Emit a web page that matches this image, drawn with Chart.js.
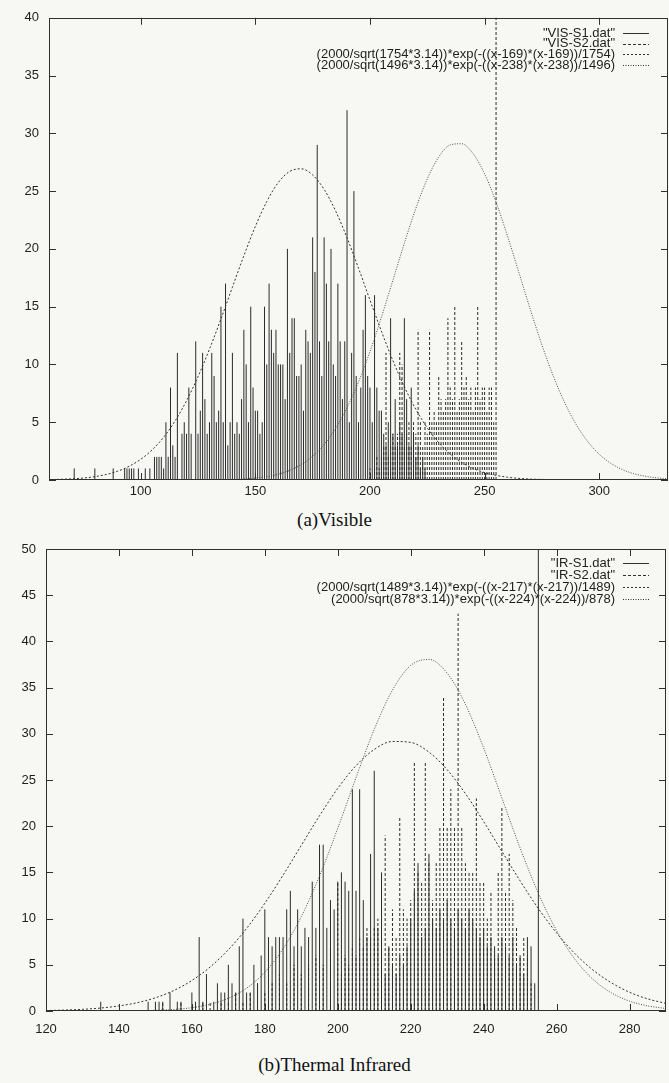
<!DOCTYPE html>
<html lang="en">
<head>
<meta charset="utf-8">
<title>Histogramas VIS / IR</title>
<script src="https://cdn.jsdelivr.net/npm/chart.js@4.4.1/dist/chart.umd.min.js"></script>
<style>
  html, body { margin: 0; padding: 0; background: #f7f7f3; }
  body { position: relative; width: 669px; height: 1083px; overflow: hidden; }
  canvas { position: absolute; left: 0; }
  .titulo { position: absolute; left: 0; width: 669px; text-align: center; line-height: 22px;
            font-family: 'Liberation Serif', 'Times New Roman', serif; font-size: 19px; color: #111; }
</style>
</head>
<body>
<canvas id="graficoVisible" width="669" height="508" style="top:0"></canvas>
<div class="titulo" style="top:509px">(a)Visible</div>
<canvas id="graficoInfrarrojo" width="669" height="520" style="top:530px"></canvas>
<div class="titulo" style="top:1054px">(b)Thermal Infrared</div>
<script>
// ---- (a) Visible ----
// histograma S1: un valor por nivel de gris, desde visS1Inicio
var visS1Inicio = 70;
var visS1 = [
    0, 1, 0, 0, 0, 0, 0, 0, 0, 0,
    1, 0, 0, 0, 0, 0, 0, 0, 1, 0,
    0, 0, 0, 1, 1, 1, 1, 1, 0, 1,
    0, 0, 1, 0, 1, 0, 2, 2, 2, 2,
    1, 5, 2, 8, 3, 2, 11, 0, 4, 5,
    4, 8, 4, 0, 12, 4, 6, 11, 7, 4,
    5, 11, 9, 5, 6, 15, 5, 17, 3, 5,
    11, 4, 5, 4, 7, 13, 10, 5, 15, 8,
    6, 6, 4, 5, 15, 10, 17, 13, 11, 13,
    10, 10, 10, 7, 20, 11, 14, 14, 9, 9,
    10, 6, 13, 12, 11, 21, 18, 29, 12, 9,
    21, 17, 12, 20, 10, 9, 17, 12, 7, 12,
    32, 5, 11, 25, 9, 5, 8, 13, 16, 9,
    8, 5, 16, 8, 6, 6, 4, 3, 5, 14,
    4, 7, 3, 5, 4, 14, 7, 3, 8, 4,
    2, 3, 1, 2, 1
];
// histograma S2 (el 255 se sale del grafico)
var visS2Inicio = 200;
var visS2 = [
    1, 0, 1, 2, 1, 2, 3, 11, 2, 3,
    4, 3, 4, 11, 10, 3, 4, 5, 3, 5,
    4, 13, 5, 3, 5, 4, 13, 5, 6, 5,
    9, 7, 6, 7, 14, 8, 7, 15, 6, 7,
    12, 8, 9, 7, 8, 6, 8, 15, 7, 8,
    8, 6, 8, 8, 5, 60
];
// curvas gaussianas
var visCurvaX = [60, 65, 70, 75, 80, 85, 90, 95, 100, 105, 110, 115, 120, 125, 130, 135, 140, 145, 150, 155,
    160, 165, 170, 175, 180, 185, 190, 195, 200, 205, 210, 215, 220, 225, 230, 235, 240, 245, 250, 255,
    260, 265, 270, 275, 280, 285, 290, 295, 300, 305, 310, 315, 320, 325, 330];
var visCurva1 = [0.03, 0.06, 0.10, 0.17, 0.29, 0.48, 0.77, 1.19, 1.79, 2.61, 3.70, 5.11, 6.86, 8.94, 11.32,
    13.94, 16.68, 19.41, 21.94, 24.10, 25.74, 26.71, 26.93, 26.40, 25.15, 23.29, 20.96, 18.33, 15.58, 12.87,
    10.34, 8.07, 6.12, 4.51, 3.23, 2.25, 1.52, 1.00, 0.64, 0.40, 0.24, 0.14, 0.08, 0.05, 0.02, 0.01, 0.01,
    0, 0, 0, 0, 0, 0, 0, 0];
var visCurva2 = [0, 0, 0, 0, 0, 0, 0, 0, 0, 0, 0, 0, 0, 0.01, 0.01, 0.02, 0.05, 0.09, 0.17, 0.29, 0.50,
    0.83, 1.33, 2.06, 3.08, 4.46, 6.26, 8.48, 11.11, 14.09, 17.28, 20.49, 23.50, 26.06, 27.96, 29.00, 29.10,
    28.24, 26.50, 24.05, 21.11, 17.93, 14.72, 11.69, 8.98, 6.67, 4.79, 3.33, 2.23, 1.45, 0.91, 0.55, 0.33,
    0.19, 0.10];
var visTicksX = [100, 150, 200, 250, 300];
var visTicksY = [0, 5, 10, 15, 20, 25, 30, 35, 40];
var visLeyenda = ['"VIS-S1.dat"', '"VIS-S2.dat"',
    '(2000/sqrt(1754*3.14))*exp(-((x-169)*(x-169))/1754)',
    '(2000/sqrt(1496*3.14))*exp(-((x-238)*(x-238))/1496)'];

// ---- (b) Thermal Infrared ----
var irS1Inicio = 135;
var irS1 = [
    1, 0, 0, 0, 0, 0, 0, 0, 0, 0,
    0, 0, 0, 1, 0, 1, 1, 1, 0, 2,
    0, 1, 1, 0, 0, 2, 1, 8, 1, 4,
    0, 1, 3, 2, 2, 5, 3, 2, 7, 10,
    2, 2, 5, 3, 6, 11, 8, 7, 8, 8,
    8, 11, 13, 7, 11, 7, 9, 8, 14, 9,
    18, 18, 9, 12, 11, 14, 15, 14, 13, 24,
    13, 24, 12, 8, 17, 26, 9, 15, 4, 7,
    5, 4, 6, 5, 7, 10, 13, 16, 8, 9,
    17, 10, 9, 11, 10, 12, 10, 9, 11, 10,
    9, 11, 10, 9, 8, 9, 7, 8, 7, 6,
    8, 7, 6, 8, 5, 6, 4, 8, 7, 3,
    60
];
var irS2Inicio = 150;
var irS2 = [
    0, 0, 1, 0, 0, 0, 0, 1, 0, 0,
    0, 0, 0, 1, 0, 1, 0, 0, 1, 0,
    1, 0, 2, 0, 1, 0, 2, 0, 3, 0,
    2, 0, 3, 0, 4, 0, 3, 0, 5, 0,
    4, 0, 5, 0, 6, 0, 5, 0, 7, 0,
    14, 4, 6, 5, 7, 6, 8, 7, 9, 8,
    9, 10, 8, 19, 7, 11, 8, 21, 11, 10,
    12, 27, 15, 14, 27, 16, 12, 16, 20, 34,
    20, 24, 20, 43, 20, 16, 15, 15, 23, 14,
    14, 10, 13, 6, 15, 22, 13, 17, 12, 9,
    6, 8, 6, 3, 0
];
var irCurvaX = [120, 125, 130, 135, 140, 145, 150, 155, 160, 165, 170, 175, 180, 185, 190, 195, 200, 205,
    210, 215, 220, 225, 230, 235, 240, 245, 250, 255, 260, 265, 270, 275, 280, 285, 290];
var irCurva1 = [0.05, 0.10, 0.18, 0.32, 0.55, 0.90, 1.43, 2.21, 3.30, 4.76, 6.63, 8.94, 11.66, 14.70, 17.93,
    21.13, 24.09, 26.55, 28.30, 29.17, 29.07, 28.02, 26.11, 23.53, 20.50, 17.28, 14.08, 11.09, 8.45, 6.22,
    4.43, 3.06, 2.03, 1.31, 0.82];
var irCurva2 = [0, 0, 0, 0.01, 0.01, 0.03, 0.07, 0.17, 0.36, 0.72, 1.38, 2.47, 4.20, 6.74, 10.21, 14.61,
    19.77, 25.25, 30.47, 34.73, 37.40, 38.05, 36.56, 33.19, 28.46, 23.05, 17.64, 12.75, 8.70, 5.61, 3.42,
    1.97, 1.07, 0.55, 0.27];
var irTicksX = [120, 140, 160, 180, 200, 220, 240, 260, 280];
var irTicksY = [0, 5, 10, 15, 20, 25, 30, 35, 40, 45, 50];
var irLeyenda = ['"IR-S1.dat"', '"IR-S2.dat"',
    '(2000/sqrt(1489*3.14))*exp(-((x-217)*(x-217))/1489)',
    '(2000/sqrt(878*3.14))*exp(-((x-224)*(x-224))/878)'];

var TINTA = '#2b2b2b';
var LETRA = '"Liberation Sans", Arial, Helvetica, sans-serif';
var trazos = [[], [3, 2], [2, 2], [1, 1.5]];

Chart.defaults.font.family = LETRA;
Chart.defaults.font.size = 13;
Chart.defaults.color = '#1e1e1e';

// cada impulso: linea vertical de 0 al valor, separada con null
function impulsos(inicio, valores) {
    var puntos = [];
    valores.forEach(function (v, i) {
        if (!v) return;
        var x = inicio + i;
        puntos.push({ x: x, y: 0 }, { x: x, y: v }, { x: x, y: null });
    });
    return puntos;
}

function curva(xs, ys) {
    return xs.map(function (x, i) { return { x: x, y: ys[i] }; });
}

// marco, marcas de las escalas hacia adentro y leyenda al estilo gnuplot
function marcoGnuplot(cfg) {
    return {
        id: 'marcoGnuplot',
        afterDraw: function (chart) {
            var ctx = chart.ctx, a = chart.chartArea;
            var sx = chart.scales.x, sy = chart.scales.y;
            ctx.save();
            ctx.strokeStyle = '#303030';
            ctx.lineWidth = 1;
            ctx.setLineDash([]);
            ctx.strokeRect(Math.round(a.left) + 0.5, Math.round(a.top) + 0.5,
                Math.round(a.right - a.left) - 1, Math.round(a.bottom - a.top) - 1);
            ctx.beginPath();
            cfg.ticksX.forEach(function (v) {
                var px = Math.round(sx.getPixelForValue(v)) + 0.5;
                ctx.moveTo(px, a.bottom); ctx.lineTo(px, a.bottom - 7);
                ctx.moveTo(px, a.top); ctx.lineTo(px, a.top + 7);
            });
            cfg.ticksY.forEach(function (v) {
                var py = Math.round(sy.getPixelForValue(v)) + 0.5;
                ctx.moveTo(a.left, py); ctx.lineTo(a.left + 7, py);
                ctx.moveTo(a.right, py); ctx.lineTo(a.right - 7, py);
            });
            ctx.stroke();

            ctx.font = '13px ' + LETRA;
            ctx.fillStyle = '#1e1e1e';
            ctx.textAlign = 'right';
            ctx.textBaseline = 'middle';
            cfg.leyenda.forEach(function (texto, i) {
                var y = cfg.leyendaY + i * cfg.leyendaPaso;
                ctx.fillText(texto, cfg.leyendaX, y);
                ctx.setLineDash(trazos[i]);
                ctx.beginPath();
                ctx.moveTo(cfg.leyendaX + 8, Math.round(y) + 0.5);
                ctx.lineTo(cfg.leyendaX + 34, Math.round(y) + 0.5);
                ctx.stroke();
            });
            ctx.restore();
        }
    };
}

function crearGrafico(id, cfg) {
    var ctx = document.getElementById(id).getContext('2d');
    var data = {
        datasets: [
            { data: curva(cfg.curvaX, cfg.curva2), borderColor: '#4a4a4a', borderWidth: 1,
              borderDash: trazos[3], cubicInterpolationMode: 'monotone', order: 0 },
            { data: curva(cfg.curvaX, cfg.curva1), borderColor: '#333', borderWidth: 1,
              borderDash: trazos[2], cubicInterpolationMode: 'monotone', order: 1 },
            { data: impulsos(cfg.s2Inicio, cfg.s2), borderColor: TINTA, borderWidth: 1,
              borderDash: trazos[1], order: 2 },
            { data: impulsos(cfg.s1Inicio, cfg.s1), borderColor: TINTA, borderWidth: 1, order: 3 }
        ]
    };
    var options = {
        responsive: false,
        animation: false,
        events: [],
        layout: { padding: { top: cfg.arriba, right: cfg.derecha, left: 0, bottom: 0 } },
        elements: { point: { radius: 0 }, line: { tension: 0 } },
        datasets: { line: { spanGaps: false, fill: false } },
        plugins: { legend: { display: false }, tooltip: { enabled: false } },
        scales: {
            x: {
                type: 'linear', min: cfg.xMin, max: cfg.xMax,
                grid: { display: false, drawTicks: false }, border: { display: false },
                ticks: { padding: cfg.padX, maxRotation: 0, autoSkip: false },
                afterBuildTicks: function (axis) { axis.ticks = cfg.ticksX.map(function (v) { return { value: v }; }); },
                afterFit: function (axis) { axis.height = cfg.altoX; }
            },
            y: {
                min: 0, max: cfg.yMax,
                grid: { display: false, drawTicks: false }, border: { display: false },
                ticks: { padding: 10 },
                afterBuildTicks: function (axis) { axis.ticks = cfg.ticksY.map(function (v) { return { value: v }; }); },
                afterFit: function (axis) { axis.width = cfg.anchoY; }
            }
        }
    };
    return new Chart(ctx, {
        type: 'line',
        data: data,
        options: options,
        plugins: [marcoGnuplot(cfg)]
    });
}

crearGrafico('graficoVisible', {
    s1Inicio: visS1Inicio, s1: visS1, s2Inicio: visS2Inicio, s2: visS2,
    curvaX: visCurvaX, curva1: visCurva1, curva2: visCurva2,
    xMin: 60, xMax: 330, yMax: 40, ticksX: visTicksX, ticksY: visTicksY,
    arriba: 17, derecha: 1, altoX: 28, anchoY: 49, padX: 4,
    leyenda: visLeyenda, leyendaX: 615, leyendaY: 33, leyendaPaso: 10.7
});

crearGrafico('graficoInfrarrojo', {
    s1Inicio: irS1Inicio, s1: irS1, s2Inicio: irS2Inicio, s2: irS2,
    curvaX: irCurvaX, curva1: irCurva1, curva2: irCurva2,
    xMin: 120, xMax: 290, yMax: 50, ticksX: irTicksX, ticksY: irTicksY,
    arriba: 19, derecha: 3, altoX: 39, anchoY: 46, padX: 11,
    leyenda: irLeyenda, leyendaX: 615, leyendaY: 33, leyendaPaso: 12
});
</script>
</body>
</html>
